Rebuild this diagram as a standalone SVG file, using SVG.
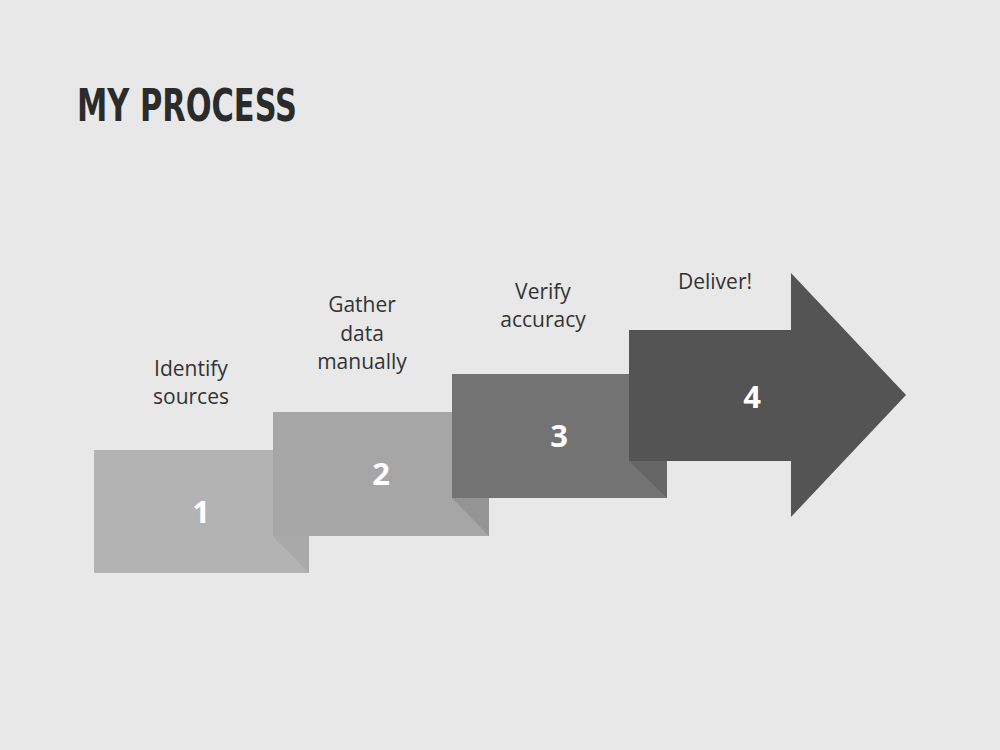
<svg xmlns="http://www.w3.org/2000/svg" width="1000" height="750" viewBox="0 0 1000 750">
  <style>
    .lbl { font-family: "Open Sans", "Noto Sans", sans-serif; font-size: 21px; fill: #333333; text-anchor: middle; }
    .num { font-family: "Open Sans", "Noto Sans", sans-serif; font-size: 31px; font-weight: 700; fill: #ffffff; text-anchor: middle; }
    .title { font-family: "DejaVu Sans Condensed", "DejaVu Sans", sans-serif; font-weight: 700; font-size: 45px; fill: #2b2b2b; }
  </style>
  <rect x="0" y="0" width="1000" height="750" fill="#e8e8e8"/>
  <text class="title" x="77" y="121" textLength="220" lengthAdjust="spacingAndGlyphs">MY PROCESS</text>

  <g id="step1">
    <rect x="94" y="450" width="215" height="123" fill="#b3b3b3"/>
    <polygon points="273,536 309,536 309,573" fill="#a9a9a9"/>
    <text class="num" x="201" y="523">1</text>
    <text class="lbl" x="191" y="376">Identify</text>
    <text class="lbl" x="191" y="404">sources</text>
  </g>
  <g id="step2">
    <rect x="273" y="412" width="216" height="124" fill="#a6a6a6"/>
    <polygon points="452,498 489,498 489,536" fill="#949494"/>
    <text class="num" x="381" y="485">2</text>
    <text class="lbl" x="362" y="312">Gather</text>
    <text class="lbl" x="362" y="341">data</text>
    <text class="lbl" x="362" y="369">manually</text>
  </g>
  <g id="step3">
    <rect x="452" y="374" width="215" height="124" fill="#737373"/>
    <polygon points="629,461 667,461 667,498" fill="#666666"/>
    <text class="num" x="559" y="447">3</text>
    <text class="lbl" x="543" y="299">Verify</text>
    <text class="lbl" x="543" y="327">accuracy</text>
  </g>
  <g id="step4">
    <polygon points="629,330 791,330 791,273 906,395 791,517 791,461 629,461" fill="#545454"/>
    <text class="num" x="752" y="408">4</text>
    <text class="lbl" x="715" y="289">Deliver!</text>
  </g>
  <g id="connectors"></g>
</svg>
